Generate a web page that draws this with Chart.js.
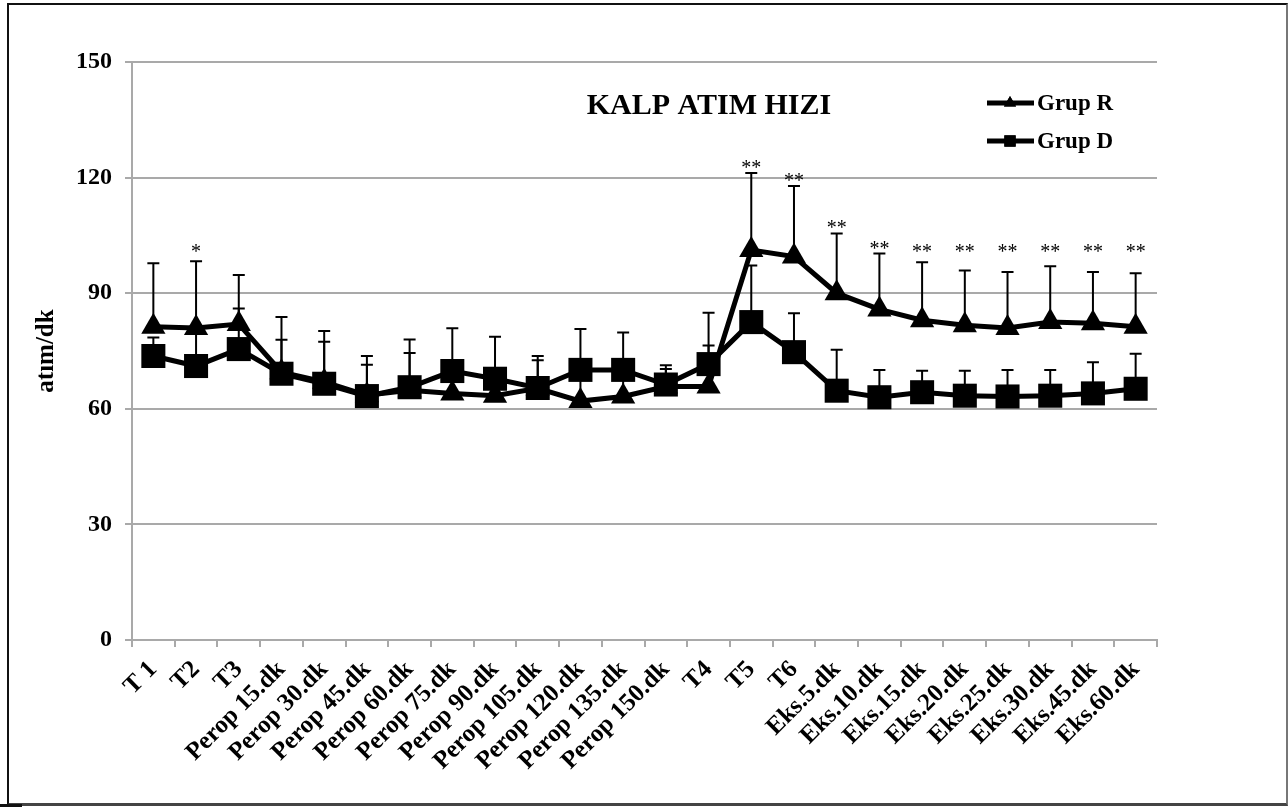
<!DOCTYPE html>
<html>
<head>
<meta charset="utf-8">
<title>Kalp Atım Hızı</title>
<script src="https://cdn.jsdelivr.net/npm/chart.js@4"></script>
<style>
    html, body { margin: 0; padding: 0; background: #fff; }
    #wrap { position: relative; width: 1288px; height: 807px; }
    #frame {
        position: absolute; left: 7px; top: 3px; width: 1277px; height: 798px;
        border-left: 2px solid #111; border-top: 2px solid #111;
        border-right: 2px solid #777; border-bottom: 3px solid #444;
        pointer-events: none;
    }
    #nub { position: absolute; left: 0; top: 804px; width: 22px; height: 3px; background: #111; }
    canvas { position: absolute; left: 0; top: 0; }
</style>
</head>
<body>
<div id="wrap">
    <canvas id="hrChart" width="1288" height="807"></canvas>
    <div id="frame"></div>
    <div id="nub"></div>
</div>
<script>
// ==========================================
// Kalp atım hızı – Grup R / Grup D (ort + SD)
// ==========================================

const labels = ['T 1', 'T2', 'T3',
    'Perop 15.dk', 'Perop 30.dk', 'Perop 45.dk', 'Perop 60.dk', 'Perop 75.dk',
    'Perop 90.dk', 'Perop 105.dk', 'Perop 120.dk', 'Perop 135.dk', 'Perop 150.dk',
    'T4', 'T5', 'T6',
    'Eks.5.dk', 'Eks.10.dk', 'Eks.15.dk', 'Eks.20.dk', 'Eks.25.dk', 'Eks.30.dk', 'Eks.45.dk', 'Eks.60.dk'];

const grupR   = [81.3, 81.0, 82.0, 69.5, 67.0, 63.5, 64.8, 64.0, 63.4, 65.3, 62.0, 63.2, 65.8,
                 65.8, 101.2, 99.5, 90.0, 85.8, 83.0, 81.7, 81.0, 82.5, 82.2, 81.3];
const grupRsd = [16.5, 17.3, 12.7, 14.3, 13.2, 10.2, 13.2, 7.0, 7.0, 8.4, 8.0, 7.0, 5.5,
                 19.1, 20.0, 18.3, 15.5, 14.5, 15.0, 14.2, 14.5, 14.5, 13.3, 13.9];

const grupD   = [73.7, 71.1, 75.5, 69.1, 66.5, 63.3, 65.6, 69.8, 67.8, 65.4, 70.1, 70.1, 66.3,
                 71.6, 82.5, 74.7, 64.7, 63.0, 64.3, 63.4, 63.2, 63.4, 64.0, 65.2];
const grupDsd = [4.8, 9.0, 10.5, 8.8, 10.9, 8.1, 8.9, 11.1, 10.9, 7.2, 10.6, 9.7, 4.0,
                 4.8, 14.7, 10.1, 10.6, 7.1, 5.6, 6.5, 6.9, 6.7, 8.1, 9.1];

// significance marks (drawn above Grup R error bar)
const sigMarks = ['', '*', '', '', '', '', '', '', '', '', '', '', '',
                  '', '**', '**', '**', '**', '**', '**', '**', '**', '**', '**'];

const yTicks = [0, 30, 60, 90, 120, 150];

const SERIF = "'Liberation Serif', 'Times New Roman', serif";
const GRID  = '#a9a9a9';

// error bars (upward only, like the original Excel chart)
const errorBars = {
    id: 'errorBars',
    beforeDatasetsDraw(chart) {
        const { ctx, scales: { x, y } } = chart;
        const sets = [[grupR, grupRsd], [grupD, grupDsd]];
        ctx.save();
        ctx.strokeStyle = '#000';
        ctx.lineWidth = 2;
        sets.forEach(([mean, sd]) => {
            mean.forEach((m, i) => {
                const px = x.getPixelForValue(i);
                const y0 = y.getPixelForValue(m);
                const y1 = y.getPixelForValue(m + sd[i]);
                ctx.beginPath();
                ctx.moveTo(px, y0); ctx.lineTo(px, y1);
                ctx.moveTo(px - 6, y1); ctx.lineTo(px + 6, y1);
                ctx.stroke();
            });
        });
        ctx.restore();
    }
};

// stars, title and legend
const decorations = {
    id: 'decorations',
    afterDraw(chart) {
        const { ctx, scales: { x, y } } = chart;
        ctx.save();
        ctx.fillStyle = '#000';

        ctx.font = `20px ${SERIF}`;
        ctx.textAlign = 'center';
        ctx.textBaseline = 'alphabetic';
        sigMarks.forEach((s, i) => {
            if (!s) return;
            const top = Math.max(grupR[i] + grupRsd[i], 99.5);
            ctx.fillText(s, x.getPixelForValue(i), y.getPixelForValue(top) + 1);
        });

        ctx.font = `bold 30px ${SERIF}`;
        ctx.fillText('KALP ATIM HIZI', 709, 114);

        const rows = [['Grup R', 'triangle', 103], ['Grup D', 'rect', 141]];
        ctx.textAlign = 'left';
        ctx.textBaseline = 'middle';
        ctx.font = `bold 23px ${SERIF}`;
        rows.forEach(([txt, style, ly]) => {
            ctx.strokeStyle = '#000';
            ctx.lineWidth = 5;
            ctx.beginPath();
            ctx.moveTo(987, ly); ctx.lineTo(1034, ly);
            ctx.stroke();
            Chart.helpers.drawPoint(ctx, { pointStyle: style, radius: style === 'rect' ? 8 : 7, rotation: 0, borderWidth: 0 }, 1010, ly);
            ctx.fill();
            ctx.fillText(txt, 1037, ly + 1);
        });
        ctx.restore();
    }
};

const ctx = document.getElementById('hrChart').getContext('2d');
new Chart(ctx, {
    type: 'line',
    data: {
        labels,
        datasets: [
            {
                label: 'Grup R', data: grupR,
                borderColor: '#000', backgroundColor: '#000', borderWidth: 5,
                pointStyle: 'triangle', pointRadius: 14, pointBorderWidth: 0,
                pointBackgroundColor: '#000', tension: 0,
            },
            {
                label: 'Grup D', data: grupD,
                borderColor: '#000', backgroundColor: '#000', borderWidth: 5,
                pointStyle: 'rect', pointRadius: 17, pointBorderWidth: 0,
                pointBackgroundColor: '#000', tension: 0,
            },
        ],
    },
    options: {
        responsive: false,
        animation: false,
        events: [],
        layout: { autoPadding: false, padding: { left: 28, top: 62, right: 131, bottom: 0 } },
        plugins: { legend: { display: false }, tooltip: { enabled: false } },
        scales: {
            x: {
                offset: true,
                grid: { display: true, drawOnChartArea: false, drawTicks: true, tickLength: 7, color: GRID, lineWidth: 2, offset: true },
                border: { color: GRID, width: 2 },
                ticks: {
                    color: '#000', autoSkip: false, maxRotation: 45, minRotation: 45, padding: 8,
                    font: { family: SERIF, size: 25, weight: 'bold' },
                },
                afterFit(scale) {
                    scale.height = 167;
                    scale.paddingLeft = 0; scale.paddingRight = 0;
                },
            },
            y: {
                min: 0, max: 150,
                afterBuildTicks(scale) { scale.ticks = yTicks.map(v => ({ value: v })); },
                grid: { color: GRID, lineWidth: 2, tickLength: 7 },
                border: { color: GRID, width: 2 },
                ticks: { color: '#000', padding: 13, font: { family: SERIF, size: 24, weight: 'bold' } },
                title: { display: true, text: 'atım/dk', color: '#000', padding: 4,
                         font: { family: SERIF, size: 25, weight: 'bold' } },
                afterFit(scale) {
                    scale.width = 104;
                    scale.paddingTop = 0; scale.paddingBottom = 0;
                },
            },
        },
    },
    plugins: [errorBars, decorations],
});
</script>
</body>
</html>
